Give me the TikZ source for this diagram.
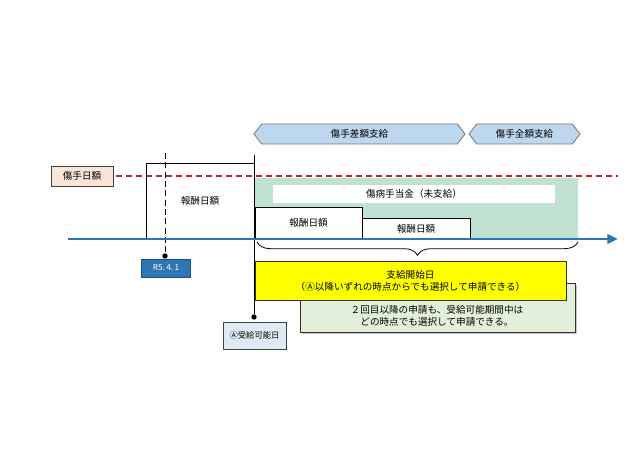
\documentclass[tikz,border=0pt]{standalone}
\usepackage{fontspec}
\setmainfont{Noto Sans CJK JP}
\usetikzlibrary{shapes.symbols,arrows.meta,decorations.pathreplacing,shadows}
\definecolor{chev}{RGB}{189,215,238}
\definecolor{chevline}{RGB}{120,120,120}
\definecolor{peach}{RGB}{251,229,214}
\definecolor{reddash}{RGB}{200,30,40}
\definecolor{teal}{RGB}{192,226,211}
\definecolor{axisblue}{RGB}{46,117,182}
\definecolor{lightgreen}{RGB}{226,240,217}
\definecolor{lightblue}{RGB}{222,235,247}
\definecolor{yel}{RGB}{255,255,0}
\tikzset{
  txt/.style={font=\fontsize{7.2}{9}\selectfont, text=black},
  chevron/.style={shape=signal, signal to=east and west, signal pointer angle=105,
    fill=chev, draw=chevline, line width=0.6pt, inner sep=0pt, txt},
  boxw/.style={draw=black, line width=0.6pt, fill=white, inner sep=0pt, txt},
  dot/.style={circle, fill=black, inner sep=0pt, minimum size=4pt},
}
\begin{document}
\begin{tikzpicture}[x=0.75pt,y=-0.75pt]
\path[use as bounding box, fill=white] (0,0) rectangle (640,453);

% top chevrons
\node[chevron, minimum width=158.25pt, minimum height=15pt] (sagaku) at (359.5,134) {傷手差額支給};
\node[chevron, minimum width=83.25pt, minimum height=15pt] (zengaku) at (524.5,134) {傷手全額支給};

% green area
\fill[teal] (255,178) rectangle (578,239);

% label box
\node[draw=black!75, fill=peach, line width=0.6pt, inner sep=0pt, minimum width=46.5pt, minimum height=15pt, txt] (nichigaku) at (82,176) {傷手日額};
\coordinate (redend) at (618,176);
\draw[reddash, line width=1.1pt, dash pattern=on 4.5pt off 3pt] (116,176) -- (redend);

% big 報酬日額 outline
\coordinate (bl) at (146,239);
\coordinate (tr) at (254,163);
\draw[line width=0.6pt] (bl) |- (tr);
\node[txt] (hou0) at (200,201) {報酬日額};

% white boxes
\node[boxw, draw=none, minimum width=211.5pt, minimum height=13.5pt] (mishikyu) at (414,194) {傷病手当金（未支給）};
\node[boxw, minimum width=80.25pt, minimum height=24pt] (hou1) at (308.5,223) {報酬日額};
\node[boxw, minimum width=81pt, minimum height=15.75pt] (hou2) at (416,228.5) {報酬日額};

% dashed vertical line and R5.4.1
\coordinate (dtop) at (165,153);
\node[dot] (d1) at (165,256) {};
\draw[line width=0.6pt, dash pattern=on 4.5pt off 2.5pt] (dtop) -- (d1);
\node[fill=axisblue, draw=axisblue!70!black, line width=0.6pt, inner sep=0pt, minimum width=36.75pt, minimum height=13.5pt, font=\fontsize{6.2}{8}\selectfont, text=white] (r5) at (166,268) {R5.\,4.\,1};

% solid vertical line
\coordinate (vtop) at (254,155);
\node[dot] (d2) at (254,317) {};
\draw[line width=0.6pt] (vtop) -- (d2);

% axis
\coordinate (ax0) at (68,239);
\coordinate (ax1) at (618,239);
\draw[axisblue, line width=2.2pt, -{Triangle[length=8pt,width=7pt]}] (ax0) -- (ax1);

% brace
\coordinate (b0) at (257,242);
\coordinate (b1) at (578,242);
\draw[line width=0.6pt, decorate, decoration={brace, mirror, amplitude=10pt}] (b0) -- (b1);

% green note box (behind yellow)
\node[fill=lightgreen, draw=black!80, line width=0.6pt, inner sep=0pt, minimum width=206.25pt, minimum height=36.75pt, drop shadow={shadow xshift=1.2pt, shadow yshift=-1.2pt, fill=black!45}] (note) at (437.5,307.5) {};
\node[txt, align=center] (notetext) at (437,316) {２回目以降の申請も、受給可能期間中は\\どの時点でも選択して申請できる。};

% yellow box
\node[fill=yel, draw=black!80, line width=0.6pt, inner sep=0pt, minimum width=233.25pt, minimum height=29.25pt, txt, align=center] (start) at (410.5,280.5) {支給開始日\\（Ⓐ以降いずれの時点からでも選択して申請できる）};

% A box
\node[fill=lightblue, draw=black!75, line width=0.6pt, inner sep=0pt, minimum width=47.25pt, minimum height=20.25pt, font=\fontsize{6.2}{8}\selectfont] (abox) at (254.5,335.5) {Ⓐ受給可能日};
\end{tikzpicture}
\end{document}
